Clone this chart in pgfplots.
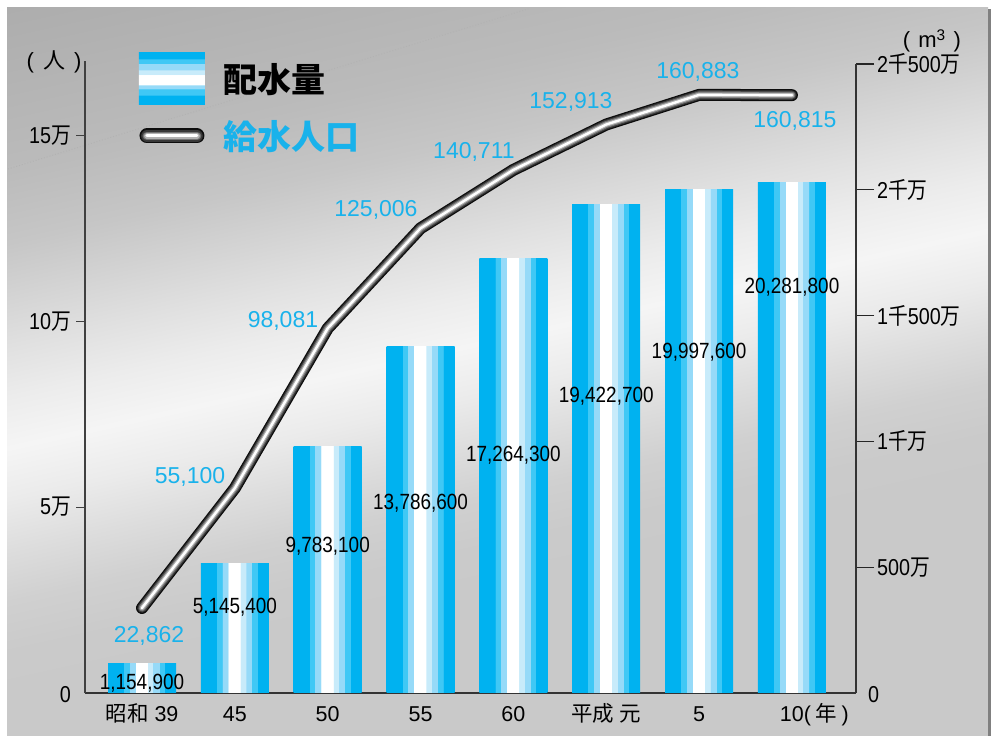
\documentclass[border=0pt]{standalone}
\usepackage{pgfplots}
\pgfplotsset{compat=1.18}
\usepackage{fontspec}
\setmainfont{Liberation Sans}
\newfontfamily\nar[FakeStretch=0.86]{Liberation Sans}
\newfontfamily\cjk{Noto Sans CJK JP}
\newfontfamily\cjknar[FakeStretch=0.86]{Noto Sans CJK JP}

\definecolor{c1}{RGB}{0,178,240}
\definecolor{c2}{RGB}{64,200,245}
\definecolor{c3}{RGB}{150,218,248}
\definecolor{c4}{RGB}{200,235,250}
\definecolor{lblue}{RGB}{25,178,235}
\definecolor{g1}{RGB}{201,201,201}
\definecolor{g2}{RGB}{202,202,202}
\definecolor{g3}{RGB}{208,208,208}
\definecolor{g4}{RGB}{221,221,221}
\definecolor{g5}{RGB}{235,235,235}
\definecolor{g6}{RGB}{245,245,245}
\definecolor{g7}{RGB}{236,236,236}
\definecolor{g8}{RGB}{224,224,224}
\definecolor{g9}{RGB}{211,211,211}
\definecolor{g10}{RGB}{198,198,198}
\definecolor{g11}{RGB}{187,187,187}
\definecolor{g12}{RGB}{173,173,173}

\pgfdeclarehorizontalshading{barstripes}{100bp}{color(0bp)=(c1); color(36.5bp)=(c1); color(36.55bp)=(c2); color(40.5bp)=(c2); color(40.55bp)=(c3); color(45bp)=(c3); color(45.05bp)=(white); color(54bp)=(white); color(54.05bp)=(c4); color(58bp)=(c4); color(58.05bp)=(c3); color(62.5bp)=(c3); color(62.55bp)=(c2); color(66.5bp)=(c2); color(66.55bp)=(c1); color(100bp)=(c1)}
\pgfdeclareverticalshading{legstripes}{100bp}{color(0bp)=(c1); color(34.7bp)=(c1); color(34.75bp)=(c2); color(40.2bp)=(c2); color(40.25bp)=(c3); color(44.4bp)=(c3); color(44.45bp)=(white); color(54bp)=(white); color(54.05bp)=(c4); color(58.9bp)=(c4); color(58.95bp)=(c3); color(64.4bp)=(c3); color(64.45bp)=(c2); color(69.2bp)=(c2); color(69.25bp)=(c1); color(100bp)=(c1)}
\pgfdeclareverticalshading{bgshade}{100bp}{color(0bp)=(g1); color(37.5bp)=(g1); color(40bp)=(g2); color(42.5bp)=(g3); color(45bp)=(g4); color(47.5bp)=(g5); color(50bp)=(g6); color(52.5bp)=(g7); color(55bp)=(g8); color(57.5bp)=(g9); color(60bp)=(g10); color(63.5bp)=(g11); color(71.5bp)=(g12); color(100bp)=(g12)}

\newcommand\tickfont{\nar\fontsize{23bp}{27bp}\selectfont}
\newcommand\xfont{\fontsize{21.5bp}{26bp}\selectfont}
\newcommand\barfont{\nar\fontsize{22bp}{26bp}\selectfont}
\newcommand\bluefont{\fontsize{23bp}{27bp}\selectfont\color{lblue}}
\newcommand\man{{\cjknar 万}}
\newcommand\sen{{\cjknar 千}}

\pgfplotsset{
  stripebar/.style={ybar, bar width=68bp, draw=none, shading=barstripes, forget plot},
  tube/.style n args={2}{forget plot, mark=none, line width=#1, color=#2, line cap=round, line join=round},
}

\begin{document}
\begin{tikzpicture}
\useasboundingbox (0,0) rectangle (993bp,736bp);
\fill[white] (0,0) rectangle (993bp,736bp);
\begin{scope}
\clip (7bp,0) rectangle (988bp,728bp);
\begin{scope}[transform canvas={shift={(496bp,396bp)},rotate=12.5}]
\shade[shading=bgshade] (-900bp,-500bp) rectangle (900bp,500bp);
\end{scope}
\end{scope}
\fill[black!50] (988bp,0) rectangle (991bp,727bp);
\draw[dotted, line width=0.9bp, white!70!black] (8bp,567bp) -- (528bp,727bp);

% bars, right axis
\begin{axis}[
  at={(85bp,43bp)}, anchor=south west,
  scale only axis, width=771bp, height=629bp,
  xmin=-0.614, xmax=7.69, ymin=0, ymax=25000000,
  axis x line=bottom, axis y line=right,
  axis line style={-, line width=1.6bp, black!80},
  x axis line style={-}, y axis line style={-},
  tick align=outside, major tick length=18bp,
  tick style={line width=1.2bp, black!85},
  xtick={0,...,7},
  xticklabels={{{\cjk 昭和} 39},45,50,55,60,{{\cjk 平成} {\cjk 元}},5,{10\makebox[0pt][l]{(\hspace{4bp}{\cjk 年}\hspace{5bp})}}},
  x tick style={draw=none},
  xticklabel style={font=\xfont, text height=16bp, text depth=4bp, inner sep=0pt, anchor=north, yshift=6bp},
  ytick={5000000,10000000,15000000,20000000,25000000},
  yticklabels={{{\nar 500}\man},{{\nar 1}\sen\man},{{\nar 1}\sen{\nar 500}\man},{{\nar 2}\sen\man},{{\nar 2}\sen{\nar 500}\man}},
  yticklabel style={font=\tickfont, anchor=west, inner sep=3bp},
  extra y ticks={0}, extra y tick labels={{\nar 0}},
  extra y tick style={tick style={draw=none}, yticklabel style={xshift=-9bp, yshift=-2bp}},
  scaled y ticks=false,
  clip=false,
]
\addplot[stripebar] coordinates {(0,1154900)};
\addplot[stripebar] coordinates {(1,5145400)};
\addplot[stripebar] coordinates {(2,9783100)};
\addplot[stripebar] coordinates {(3,13786600)};
\addplot[stripebar] coordinates {(4,17264300)};
\addplot[stripebar] coordinates {(5,19422700)};
\addplot[stripebar] coordinates {(6,19997600)};
\addplot[stripebar] coordinates {(7,20281800)};
\end{axis}

% population line, left axis
\begin{axis}[
  at={(85bp,43bp)}, anchor=south west,
  scale only axis, width=771bp, height=632bp,
  xmin=-0.614, xmax=7.69, ymin=0, ymax=170000,
  axis x line=none, axis y line=left,
  axis line style={-, line width=1.6bp, black!75},
  y axis line style={-},
  tick align=outside, major tick length=9bp,
  tick style={line width=1.2bp, black!75},
  ytick={50000,100000,150000},
  yticklabels={{{\nar 5}\man},{{\nar 10}\man},{{\nar 15}\man}},
  yticklabel style={font=\tickfont, anchor=east, inner sep=5bp},
  extra y ticks={0}, extra y tick labels={{\nar 0}},
  extra y tick style={tick style={draw=none}, yticklabel style={yshift=-2bp}},
  scaled y ticks=false,
  clip=false,
  legend style={draw=none, fill=none, inner sep=0pt, outer sep=0pt,
    at={(0.070,1.0127)}, anchor=north west, row sep=5bp, column sep=19bp,
    nodes={inner sep=0pt}, font=\fontsize{34bp}{40bp}\selectfont},
  legend cell align=left,
]
\addplot[tube={12bp}{black!95}] coordinates {(0,22862) (1,55100) (2,98081) (3,125006) (4,140711) (5,152913) (6,160883) (7,160815)};
\addplot[tube={9.4bp}{black!78}] coordinates {(0,22862) (1,55100) (2,98081) (3,125006) (4,140711) (5,152913) (6,160883) (7,160815)};
\addplot[tube={7bp}{black!55}] coordinates {(0,22862) (1,55100) (2,98081) (3,125006) (4,140711) (5,152913) (6,160883) (7,160815)};
\addplot[tube={4.6bp}{black!30}] coordinates {(0,22862) (1,55100) (2,98081) (3,125006) (4,140711) (5,152913) (6,160883) (7,160815)};
\addplot[tube={2.4bp}{white}] coordinates {(0,22862) (1,55100) (2,98081) (3,125006) (4,140711) (5,152913) (6,160883) (7,160815)};

\addlegendimage{legend image code/.code={\shade[draw=none, shading=legstripes] (0bp,-26bp) rectangle (66bp,26bp);}}
\addlegendentry{{\cjk\bfseries 配水量}}
\addlegendimage{legend image code/.code={%
  \path[draw=none, fill=none] (0bp,-26bp) rectangle (66bp,26bp);
  \draw[line width=15bp, black!95, line cap=round] (8bp,0) -- (58bp,0);
  \draw[line width=11.7bp, black!78, line cap=round] (8bp,0) -- (58bp,0);
  \draw[line width=8.7bp, black!55, line cap=round] (8bp,0) -- (58bp,0);
  \draw[line width=5.8bp, black!30, line cap=round] (8bp,0) -- (58bp,0);
  \draw[line width=3bp, white, line cap=round] (8bp,0) -- (58bp,0);}}
\addlegendentry{\textcolor{lblue}{\cjk\bfseries 給水人口}}

% bar value labels
\node[font=\barfont] at (axis cs:0,2690) {1,154,900};
\node[font=\barfont] at (axis cs:1,23133) {5,145,400};
\node[font=\barfont] at (axis cs:2,39542) {9,783,100};
\node[font=\barfont] at (axis cs:3,51108) {13,786,600};
\node[font=\barfont] at (axis cs:4,64020) {17,264,300};
\node[font=\barfont] at (axis cs:5,79890) {19,422,700};
\node[font=\barfont] at (axis cs:6,91726) {19,997,600};
\node[font=\barfont] at (axis cs:7,109210) {20,281,800};
% population labels
\node[font=\bluefont] at (axis cs:0.075,15332) {22,862};
\node[font=\bluefont] at (axis cs:0.517,58102) {55,100};
\node[font=\bluefont] at (axis cs:1.518,100064) {98,081};
\node[font=\bluefont] at (axis cs:2.520,129922) {125,006};
\node[font=\bluefont] at (axis cs:3.575,145524) {140,711};
\node[font=\bluefont] at (axis cs:4.620,158973) {152,913};
\node[font=\bluefont] at (axis cs:5.987,167042) {160,883};
\node[font=\bluefont] at (axis cs:7.032,153862) {160,815};
\end{axis}

\node[font={\fontsize{22bp}{26bp}\selectfont}] at (54bp,674bp) {(\hspace{9bp}{\cjk 人}\hspace{9bp})};
\node[font={\fontsize{22bp}{26bp}\selectfont}] at (932bp,695bp) {(\hspace{8bp}m\textsuperscript{3}\hspace{8bp})};
\end{tikzpicture}
\end{document}
